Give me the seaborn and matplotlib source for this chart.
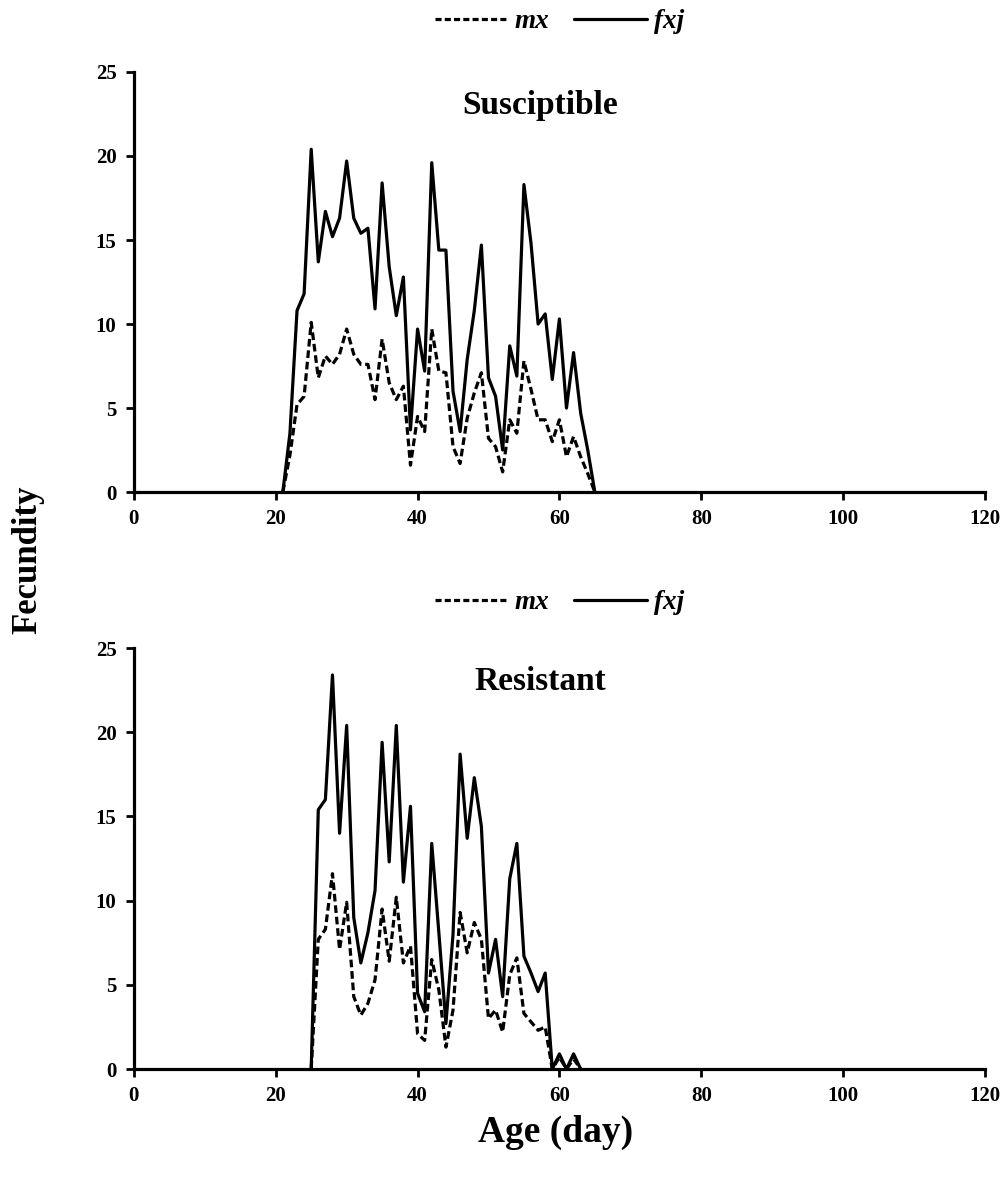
import numpy as np
import pandas as pd
import matplotlib
matplotlib.use("Agg")
import matplotlib.pyplot as plt
import seaborn as sns
from matplotlib.lines import Line2D

# ---------------- data ----------------
days_s = list(range(21, 66))
fxj_s = [0, 3.5, 10.8, 11.8, 20.4, 13.7, 16.7, 15.2, 16.3, 19.7, 16.3, 15.4, 15.7, 10.9,
         18.4, 13.4, 10.5, 12.8, 3.7, 9.7, 7.2, 19.6, 14.4, 14.4, 6.0, 3.6, 7.9, 10.8,
         14.7, 6.8, 5.7, 2.5, 8.7, 6.9, 18.3, 14.8, 10.0, 10.6, 6.7, 10.3, 5.0, 8.3,
         4.7, 2.5, 0]
mx_s = [0, 2.2, 5.2, 5.7, 10.1, 6.8, 8.1, 7.6, 8.2, 9.7, 8.2, 7.6, 7.6, 5.5, 9.1, 6.5,
        5.5, 6.3, 1.6, 4.5, 3.6, 9.7, 7.2, 7.1, 2.7, 1.7, 4.4, 5.9, 7.1, 3.2, 2.7, 1.2,
        4.3, 3.5, 7.8, 6.1, 4.3, 4.3, 3.0, 4.3, 2.1, 3.3, 2.1, 1.1, 0]

days_r = list(range(25, 64))
fxj_r = [0, 15.4, 16.0, 23.4, 14.0, 20.4, 9.0, 6.3, 8.1, 10.6, 19.4, 12.3, 20.4, 11.1,
         15.6, 4.5, 3.4, 13.4, 8.1, 2.7, 8.0, 18.7, 13.7, 17.3, 14.4, 5.7, 7.7, 4.3,
         11.3, 13.4, 6.7, 5.7, 4.6, 5.7, 0, 0.9, 0, 0.9, 0]
mx_r = [0, 7.7, 8.3, 11.6, 7.1, 9.9, 4.3, 3.2, 3.9, 5.3, 9.5, 6.4, 10.2, 6.3, 7.3, 2.1,
        1.7, 6.5, 4.7, 1.3, 3.5, 9.3, 6.9, 8.7, 7.7, 3.0, 3.5, 2.2, 5.6, 6.6, 3.3, 2.8,
        2.3, 2.5, 0, 0.7, 0, 0.6, 0]

panel_titles = ["Susciptible", "Resistant"]
series_names = ["mx", "fxj"]
xticks = [0, 20, 40, 60, 80, 100, 120]
yticks = [0, 5, 10, 15, 20, 25]

# ---------------- style ----------------
sns.set_theme(style="white", rc={"text.color": "black", "axes.labelcolor": "black",
                                  "xtick.color": "black", "ytick.color": "black"})
plt.rcParams['font.family'] = ['Liberation Serif', 'DejaVu Serif']
plt.rcParams['font.weight'] = 'bold'

fig = plt.figure(figsize=(10.07, 11.78), dpi=100)
ax_top = fig.add_axes([0.133, 0.5823, 0.845, 0.3566])
ax_bot = fig.add_axes([0.133, 0.0925, 0.845, 0.3574])

panels = [(ax_top, days_s, mx_s, fxj_s, panel_titles[0], 1.119),
          (ax_bot, days_r, mx_r, fxj_r, panel_titles[1], 1.107)]

DASH = (0, (2.4, 1.2))
for ax, d, mx, fx, title, ly in panels:
    df = pd.DataFrame({"day": d, "mx": mx, "fxj": fx})
    sns.lineplot(data=df, x="day", y="mx", ax=ax, color="black", lw=2.3,
                 linestyle=DASH, legend=False)
    sns.lineplot(data=df, x="day", y="fxj", ax=ax, color="black", lw=2.3,
                 legend=False)
    ax.set_xlim(0, 120)
    ax.set_ylim(0, 25)
    ax.set_xticks(xticks)
    ax.set_yticks(yticks)
    ax.set_xlabel("")
    ax.set_ylabel("")
    for s in ["top", "right"]:
        ax.spines[s].set_visible(False)
    for s in ["left", "bottom"]:
        ax.spines[s].set_color("black")
        ax.spines[s].set_linewidth(2.3)
    ax.tick_params(axis="both", direction="out", length=5.5, width=2.0,
                   color="black", labelsize=15, bottom=True, left=True)
    ax.tick_params(axis="x", pad=7)
    ax.tick_params(axis="y", pad=7)
    for lab in ax.get_xticklabels() + ax.get_yticklabels():
        lab.set_fontweight("bold")
    ax.text(0.477, 0.921, title, transform=ax.transAxes, ha="center", va="center",
            fontsize=24, fontweight="bold")
    handles = [Line2D([], [], color="black", lw=2.3, linestyle=(0, (1.9, 1.0))),
               Line2D([], [], color="black", lw=2.3)]
    ax.legend(handles, series_names, loc="center",
              bbox_to_anchor=(0.5, ly), ncol=2, frameon=False,
              handlelength=2.7, handletextpad=0.25, columnspacing=0.9,
              prop={"size": 19.5, "style": "italic", "weight": "bold"})

fig.text(0.028, 0.5246, "Fecundity", rotation=90, ha="center", va="center",
         fontsize=25, fontweight="bold")
fig.text(0.552, 0.039, "Age (day)", ha="center", va="center",
         fontsize=27, fontweight="bold")

fig.savefig("out.png", dpi=100, facecolor="white")
